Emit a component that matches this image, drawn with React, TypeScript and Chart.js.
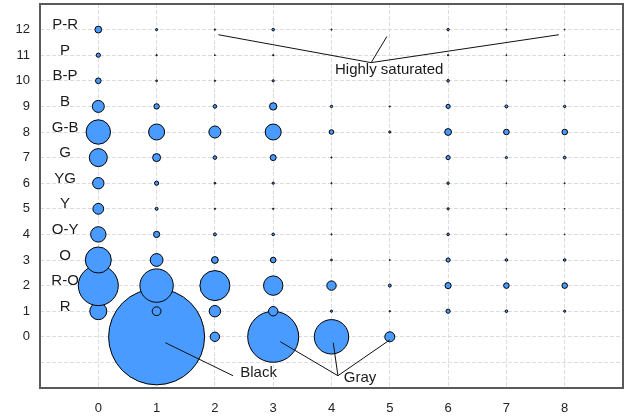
import { useEffect, useRef } from 'react';
import { Chart, registerables } from 'chart.js';

Chart.register(...registerables);

// Lightness columns (x) and hue rows (y)
const X_VALUES = [0, 1, 2, 3, 4, 5, 6, 7, 8];
const Y_VALUES = [0, 1, 2, 3, 4, 5, 6, 7, 8, 9, 10, 11, 12];

// Hue labels for rows 1..12
const HUE_LABELS = ['R', 'R-O', 'O', 'O-Y', 'Y', 'YG', 'G', 'G-B', 'B', 'B-P', 'P', 'P-R'];
const HUE_ROWS = [1, 2, 3, 4, 5, 6, 7, 8, 9, 10, 11, 12];

// Bubble radii per column, indexed by row 0..12 (0 = no bubble)
const COL_0 = [0, 8.5, 20, 13, 7.7, 5.4, 5.7, 9, 12.2, 6, 2.8, 2.1, 3.4];
const COL_1 = [48, 4.4, 16.7, 6.4, 3.1, 1.5, 2.1, 4, 8, 2.7, 0.9, 0.7, 1.1];
const COL_2 = [4.7, 5.7, 15, 3.4, 1.5, 0.7, 0.9, 1.8, 6, 1.8, 0.7, 0.5, 0.7];
const COL_3 = [25.5, 4.7, 9.7, 2.8, 1.3, 0.7, 1.1, 3, 8, 3.7, 1.1, 0.7, 1.3];
const COL_4 = [17.2, 1.1, 4.7, 0.9, 0.6, 0.6, 0.6, 0.6, 2.3, 1.2, 0, 0, 0.6];
const COL_5 = [5, 0.7, 1.5, 0.5, 0, 0, 0, 0, 1.1, 0.6, 0, 0, 0];
const COL_6 = [0, 2.1, 3.1, 2.1, 1.3, 1.1, 1.2, 2.1, 3.4, 2.1, 1.3, 0.7, 1.2];
const COL_7 = [0, 1.3, 2.8, 1.3, 0.5, 0.5, 0.5, 1.1, 2.8, 1.5, 0.6, 0.5, 0.5];
const COL_8 = [0, 1.1, 2.8, 1.3, 0.4, 0.4, 0.5, 1.4, 2.8, 1.2, 0.5, 0.4, 0.4];
const COLUMNS = [COL_0, COL_1, COL_2, COL_3, COL_4, COL_5, COL_6, COL_7, COL_8];

// Annotations (data units)
const SAT_TEXT = 'Highly saturated';
const SAT_POS = [4.99, 10.44];
const SAT_VERTEX = [4.68, 10.71];
const SAT_ENDS = [[2.06, 11.8], [4.95, 11.73], [7.9, 11.8]];
const BLACK_TEXT = 'Black';
const BLACK_POS = [2.75, -1.4];
const BLACK_LINE = [[1.15, -0.23], [2.31, -1.52]];
const GRAY_TEXT = 'Gray';
const GRAY_POS = [4.49, -1.6];
const GRAY_VERTEX = [4.11, -1.52];
const GRAY_ENDS = [[3.12, -0.19], [4.03, -0.23], [5.0, -0.12]];
const HUE_LABEL_X = -0.57;
const HUE_LABEL_DY = 0.18;

const FONT = '"Liberation Sans", Arial, Helvetica, sans-serif';

export default function App() {
  const ref = useRef<HTMLCanvasElement>(null);

  useEffect(() => {
    const points: { x: number; y: number; r: number }[] = [];
    for (let yi = 0; yi < Y_VALUES.length; yi++) {
      for (let xi = 0; xi < X_VALUES.length; xi++) {
        const r = COLUMNS[xi][yi];
        if (r > 0) points.push({ x: X_VALUES[xi], y: Y_VALUES[yi], r });
      }
    }

    const annotate = {
      id: 'annotate',
      afterDatasetsDraw(chart: any) {
        const { ctx, chartArea, scales } = chart;
        const px = (v: number) => scales.x.getPixelForValue(v);
        const py = (v: number) => scales.y.getPixelForValue(v);
        ctx.save();
        // frame
        ctx.strokeStyle = '#5a5a5a';
        ctx.lineWidth = 2;
        ctx.strokeRect(chartArea.left, chartArea.top, chartArea.right - chartArea.left, chartArea.bottom - chartArea.top);

        ctx.strokeStyle = '#111';
        ctx.lineWidth = 1;
        const seg = (a: number[], b: number[]) => {
          ctx.beginPath();
          ctx.moveTo(px(a[0]), py(a[1]));
          ctx.lineTo(px(b[0]), py(b[1]));
          ctx.stroke();
        };
        SAT_ENDS.forEach((e) => seg(SAT_VERTEX, e));
        seg(BLACK_LINE[0], BLACK_LINE[1]);
        GRAY_ENDS.forEach((e) => seg(GRAY_VERTEX, e));

        ctx.fillStyle = '#1a1a1a';
        ctx.font = `15px ${FONT}`;
        ctx.textAlign = 'center';
        ctx.textBaseline = 'middle';
        ctx.fillText(SAT_TEXT, px(SAT_POS[0]), py(SAT_POS[1]));
        ctx.fillText(BLACK_TEXT, px(BLACK_POS[0]), py(BLACK_POS[1]));
        ctx.fillText(GRAY_TEXT, px(GRAY_POS[0]), py(GRAY_POS[1]));
        HUE_LABELS.forEach((t, i) => {
          ctx.fillText(t, px(HUE_LABEL_X), py(HUE_ROWS[i] + HUE_LABEL_DY));
        });
        ctx.restore();
      },
    };

    const zeroPad = (s: any) => {
      s.paddingTop = 0;
      s.paddingBottom = 0;
      s.paddingLeft = 0;
      s.paddingRight = 0;
    };

    const chart = new Chart(ref.current!, {
      type: 'bubble',
      data: {
        datasets: [
          {
            data: points,
            backgroundColor: '#4a9bff',
            borderColor: '#000',
            borderWidth: 1,
            clip: false,
          } as any,
        ],
      },
      options: {
        responsive: false,
        animation: false,
        events: [],
        layout: { autoPadding: false, padding: { top: 4, right: 19, left: 0, bottom: 0 } },
        plugins: { legend: { display: false }, tooltip: { enabled: false } },
        scales: {
          x: {
            type: 'linear',
            min: -1,
            max: 9,
            afterFit: (s: any) => {
              s.height = 31;
              zeroPad(s);
            },
            ticks: {
              stepSize: 1,
              padding: 13,
              color: '#222',
              font: { family: FONT, size: 13 },
              callback: (v: any) => (v >= 0 && v <= 8 ? String(v) : ''),
            },
            grid: { color: '#dcdcdc', lineWidth: 1, drawTicks: false },
            border: { display: false, dash: [4, 2] },
          },
          y: {
            type: 'linear',
            min: -2,
            max: 13,
            afterFit: (s: any) => {
              s.width = 40;
              zeroPad(s);
            },
            ticks: {
              stepSize: 1,
              padding: 10,
              color: '#222',
              font: { family: FONT, size: 13 },
              callback: (v: any) => (v >= 0 && v <= 12 ? String(v) : ''),
            },
            grid: { color: '#dcdcdc', lineWidth: 1, drawTicks: false },
            border: { display: false, dash: [4, 2] },
          },
        },
      } as any,
      plugins: [annotate],
    });
    return () => chart.destroy();
  }, []);

  return (
    <div style={{ position: 'fixed', left: 0, top: 0, width: 642, height: 419, background: '#fff' }}>
      <canvas ref={ref} width={642} height={419} style={{ display: 'block' }} />
    </div>
  );
}
